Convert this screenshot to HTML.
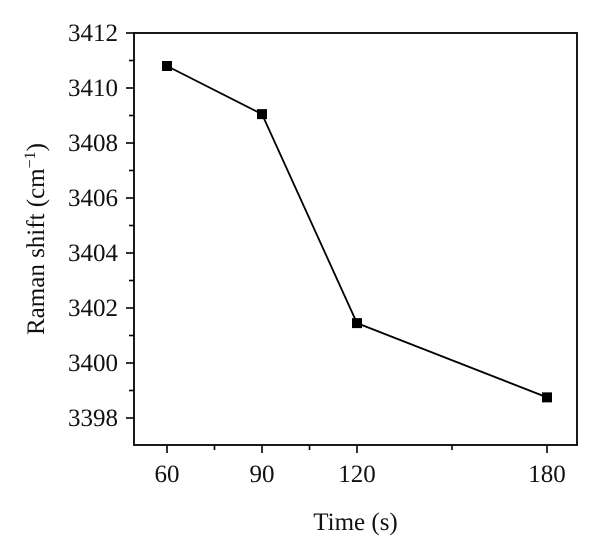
<!DOCTYPE html>
<html><head><meta charset="utf-8"><style>
body{margin:0;background:#fff}
text{font-family:"Liberation Serif",serif;fill:#111}
</style></head><body>
<svg id="c" width="600" height="550" xmlns="http://www.w3.org/2000/svg"></svg>
<script>
const times=[60,90,120,180];
const shifts=[3410.8,3409.05,3401.45,3398.75];
const yTicks=[3398,3400,3402,3404,3406,3408,3410,3412];
const xTicks=[60,90,120,180];
const xMinor=[75,105,150];
const L=134,R=577,T=33,B=445;
const x=v=>167+(v-60)*95/30;
const y=v=>T+(3412-v)*27.5;
const s=document.getElementById('c');const NS='http://www.w3.org/2000/svg';
function el(t,a,p){const e=document.createElementNS(NS,t);for(const k in a)e.setAttribute(k,a[k]);(p||s).appendChild(e);return e;}
const frame=el('rect',{x:L,y:T,width:R-L,height:B-T,fill:'none',stroke:'#000','stroke-width':1.8});


yTicks.forEach(v=>{
 const tk=el('line',{x1:L-8,x2:L,y1:y(v),y2:y(v),stroke:'#000','stroke-width':1.6});
 
 
 if(v<3412){const m=el('line',{x1:L-5,x2:L,y1:y(v+1),y2:y(v+1),stroke:'#000','stroke-width':1.6});
 
 }
 const t=el('text',{x:L-16,y:y(v)+8,'text-anchor':'end','font-size':25});t.textContent=v;
 
 
});
xTicks.forEach(v=>{
 const tk=el('line',{x1:x(v),x2:x(v),y1:B,y2:B+8,stroke:'#000','stroke-width':1.6});
 
 
 const t=el('text',{x:x(v),y:B+37,'text-anchor':'middle','font-size':25});t.textContent=v;
 
 
});
xMinor.forEach(v=>{
 const m=el('line',{x1:x(v),x2:x(v),y1:B,y2:B+5,stroke:'#000','stroke-width':1.6});
 
 
});
const line=el('polyline',{points:times.map((t,i)=>x(t)+','+y(shifts[i])).join(' '),fill:'none',stroke:'#000','stroke-width':1.8});


times.forEach((t,i)=>{
 const r=el('rect',{x:x(t)-5,y:y(shifts[i])-5,width:10,height:10,fill:'#000'});
 
 
});
const xt=el('text',{x:(L+R)/2,y:530,'text-anchor':'middle','font-size':25});xt.textContent='Time (s)';


const yt=el('text',{x:0,y:0,'text-anchor':'middle','font-size':25,transform:'translate(44,'+((T+B)/2)+') rotate(-90)'});
yt.innerHTML='Raman shift (cm<tspan dy="-9" font-size="16">−1</tspan><tspan dy="9">)</tspan>';


</script>
</body></html>
